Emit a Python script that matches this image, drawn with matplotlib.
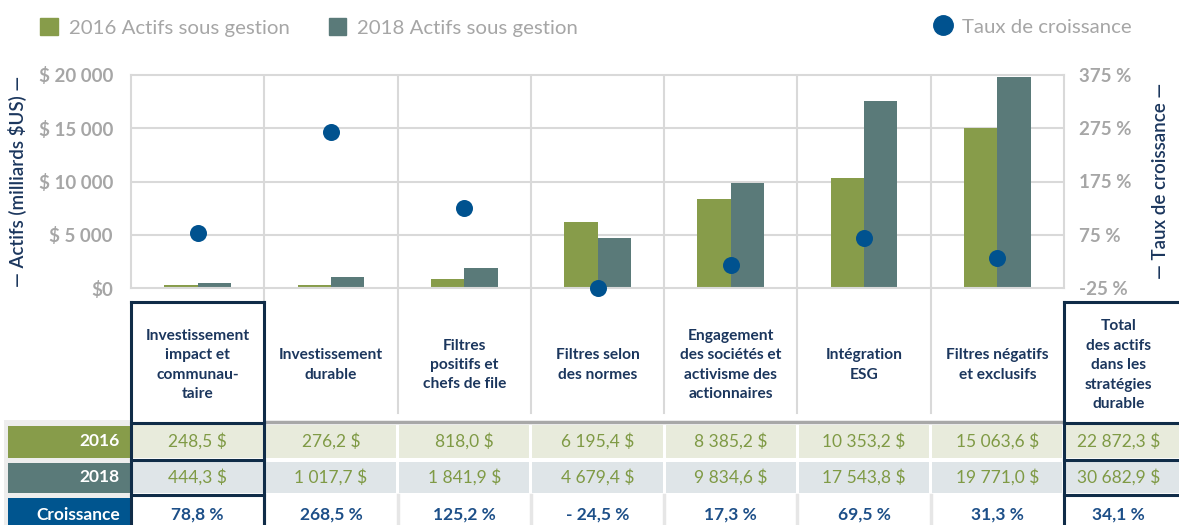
import matplotlib.pyplot as plt
from matplotlib.patches import Patch, Rectangle
from matplotlib.lines import Line2D
import numpy as np

plt.rcParams['font.family'] = ['Lato', 'DejaVu Sans']
plt.rcParams['text.parse_math'] = False

# data
categories = [
    "Investissement\nimpact et\ncommunau-\ntaire",
    "Investissement\ndurable",
    "Filtres\npositifs et\nchefs de file",
    "Filtres selon\ndes normes",
    "Engagement\ndes sociétés et\nactivisme des\nactionnaires",
    "Intégration\nESG",
    "Filtres négatifs\net exclusifs",
]
total_label = "Total\ndes actifs\ndans les\nstratégies\ndurable"

assets_2016 = [248.5, 276.2, 818.0, 6195.4, 8385.2, 10353.2, 15063.6]
assets_2018 = [444.3, 1017.7, 1841.9, 4679.4, 9834.6, 17543.8, 19771.0]
growth = [78.8, 268.5, 125.2, -24.5, 17.3, 69.5, 31.3]

total_2016 = 22872.3
total_2018 = 30682.9
total_growth = 34.1

left_ticks = [0, 5000, 10000, 15000, 20000]
left_labels = ["$0", "$ 5 000", "$ 10 000", "$ 15 000", "$ 20 000"]
right_ticks = [-25, 75, 175, 275, 375]
right_labels = ["-25 %", "75 %", "175 %", "275 %", "375 %"]

# colours
green = '#879C4A'
teal = '#5A7A79'
dot_blue = '#00528F'
navy = '#1B365D'
box = '#102C48'
gray_txt = '#A6A6A6'
grid_c = '#D9D9D9'


def money(v):
    s = "{:,.1f}".format(v).replace(',', ' ').replace('.', ',')
    return s + " $"


def pct(v):
    s = "{:.1f}".format(abs(v)).replace('.', ',') + " %"
    return ("- " + s) if v < 0 else s


W, H = 1179, 525
L, R, T, B = 131, 1064, 75, 288
fig = plt.figure(figsize=(W / 100, H / 100), dpi=100)
ax = fig.add_axes([L / W, 1 - B / H, (R - L) / W, (B - T) / H])

x = np.arange(len(categories))
ax.bar(x - 0.125, assets_2016, 0.25, color=green, zorder=2)
ax.bar(x + 0.125, assets_2018, 0.25, color=teal, zorder=2)
ax.set_xlim(-0.5, len(categories) - 0.5)
ax.set_ylim(0, 20000)
ax.set_yticks(left_ticks)
ax.set_yticklabels(left_labels)
ax.set_xticks([])
for v in left_ticks[1:-1]:
    ax.axhline(v, color=grid_c, lw=1.5, zorder=1)
for i in range(1, len(categories)):
    ax.axvline(i - 0.5, color=grid_c, lw=1.5, zorder=1)
for s in ax.spines.values():
    s.set_color(grid_c)
    s.set_linewidth(1.5)
ax.tick_params(axis='y', length=0, pad=13, labelsize=13.5, labelcolor=gray_txt)
for t in ax.get_yticklabels():
    t.set_fontweight('bold')

ax2 = ax.twinx()
ax2.scatter(x, growth, s=150, color=dot_blue, zorder=4, clip_on=False, linewidths=0)
ax2.set_ylim(-25, 375)
ax2.set_yticks(right_ticks)
ax2.set_yticklabels(right_labels)
ax2.tick_params(axis='y', length=0, pad=11, labelsize=13.5, labelcolor=gray_txt)
for t in ax2.get_yticklabels():
    t.set_fontweight('bold')
for s in ax2.spines.values():
    s.set_visible(False)

fig.text(17 / W, 1 - 181 / H, "— Actifs (milliards $US) —", rotation=90,
         ha='center', va='center', fontsize=13.5, color=navy, fontweight='semibold')
fig.text(1160 / W, 1 - 181 / H, "— Taux de croissance —", rotation=90,
         ha='center', va='center', fontsize=13.5, color=navy, fontweight='semibold')

# legends
leg1 = fig.legend(handles=[Patch(color=green, label="2016 Actifs sous gestion"),
                           Patch(color=teal, label="2018 Actifs sous gestion")],
                  loc='upper left', bbox_to_anchor=(26 / W, 1 - 4 / H), ncol=2, frameon=False,
                  fontsize=14.7, labelcolor=gray_txt, handlelength=0.85, handleheight=0.85,
                  handletextpad=0.55, columnspacing=1.9, borderaxespad=0.3)
leg2 = fig.legend(handles=[Line2D([], [], ls='', marker='o', markersize=14,
                                  color=dot_blue, label="Taux de croissance")],
                  loc='upper right', bbox_to_anchor=(1146 / W, 1 - 4 / H), frameon=False,
                  fontsize=14.7, labelcolor=gray_txt, handlelength=1.0,
                  handletextpad=0.45, borderaxespad=0.3)

# table below the chart, columns aligned with the category axis
colw = (R - L) / len(categories)
tab = fig.add_axes([0, 0, 1, 1])
tab.set_xlim(-0.5 - L / colw, -0.5 + (W - L) / colw)
tab.set_ylim(H, 0)
tab.axis('off')

n = len(categories)
px = 1.6 / colw  # small gap, data units
rows_y = [(423, 460), (460, 495), (495, 530)]
row_bg = ['#E8EBDC', '#DFE5E8', 'white']
row_lab = ["2016", "2018", "Croissance"]
row_lab_bg = [green, teal, '#00558F']
vals_2016 = assets_2016 + [total_2016]
vals_2018 = assets_2018 + [total_2018]
vals_g = growth + [total_growth]
row_txt = [[money(v) for v in vals_2016], [money(v) for v in vals_2018],
           [pct(v) for v in vals_g]]
row_col = ['#7F9A45', '#7F9A45', '#1D4F88']
row_w = ['normal', 'normal', 'bold']

# label column
x_lab0 = -0.5 - (L - 4) / colw
tab.add_patch(Rectangle((x_lab0, 420), -0.5 - x_lab0, 110, color='#EDEDED', lw=0))
for r, (y0, y1) in enumerate(rows_y):
    tab.add_patch(Rectangle((-0.5 - (L - 8) / colw, y0 + 2.5), (L - 9) / colw,
                            y1 - y0 - 5, color=row_lab_bg[r], lw=0))
    tab.text(-0.5 - 11 / colw, (y0 + y1) / 2 if r < 2 else 515, row_lab[r],
             ha='right', va='center', color='white', fontsize=12.5, fontweight='bold')

# header separators continue the plot gridlines
for i in range(1, n):
    tab.plot([i - 0.5, i - 0.5], [B, 413 if i > 1 else 302], color=grid_c, lw=1.5)
tab.plot([0.5, n - 0.5], [421.5, 421.5], color='#A8A8A8', lw=2.5, solid_capstyle='butt')

# headers
for i, name in enumerate(categories + [total_label]):
    cx = i if i < n else n - 0.5 + (W - R) / colw / 2 - 0.02
    tab.text(cx, 365, name, ha='center', va='center', multialignment='center',
             fontsize=11.2, fontweight='bold', color=navy, linespacing=1.5)

# body cells
for r, (y0, y1) in enumerate(rows_y):
    for i in range(n + 1):
        c0 = i - 0.5
        c1 = i + 0.5 if i < n else -0.5 + (W - L) / colw + 0.1
        if r < 2:
            tab.add_patch(Rectangle((c0 + px, y0 + 2), c1 - c0 - 2 * px, y1 - y0 - 4,
                                    color=row_bg[r], lw=0))
        cx = i if i < n else n - 0.5 + (W - R) / colw / 2 - 0.02
        cy = (y0 + y1) / 2 if r < 2 else 515
        tab.text(cx, cy, row_txt[r][i], ha='center', va='center', fontsize=12.5,
                 color=row_col[r], fontweight=row_w[r])
    if r == 2:
        for i in range(1, n):
            tab.plot([i - 0.5, i - 0.5], [y0, H], color='#E6E6E6', lw=2.5)

# dark boxes around first and total columns
for c0, c1 in [(-0.5, 0.5), (n - 0.5, n - 0.5 + 2.0)]:
    edges = [302] + [y for y, _ in rows_y[1:]] + [423]
    for y in sorted(set(edges)):
        tab.plot([c0, c1], [y, y], color=box, lw=2.2, solid_capstyle='projecting')
    tab.plot([c0, c0], [302, H], color=box, lw=2.2)
    tab.plot([c1, c1], [302, H], color=box, lw=2.2)

fig.savefig('out.png', dpi=100)
